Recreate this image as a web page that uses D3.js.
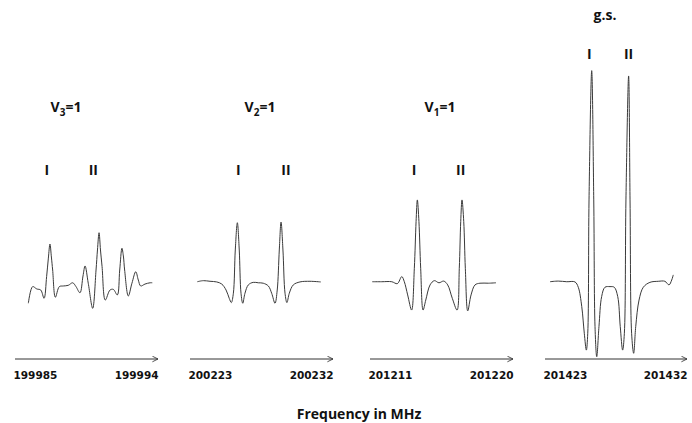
<!DOCTYPE html>
<html>
<head>
<meta charset="utf-8">
<script src="https://cdn.jsdelivr.net/npm/d3@7"></script>
<style>
  body { margin: 0; background: #fff; }
  svg { display: block; }
  .title, .peak { font-family: "Open Sans", sans-serif; font-weight: bold; fill: #111; }
  .tick text { font-family: "DejaVu Sans", sans-serif; font-weight: bold; font-size: 10.5px; fill: #111; }
</style>
</head>
<body>
<svg width="692" height="423"></svg>
<script>
// panel titles (vibrational state), sub = subscript digit
var titles = ["V", "V", "V", "g.s."];
var titleSubs = ["3", "2", "1", ""];

// first and last tick of each frequency axis, MHz
var axisStart = [199985, 200223, 201211, 201423];
var axisEnd = [199994, 200232, 201220, 201432];

// where the I / II labels sit, MHz above axisStart
var labelI = [2.01, 3.04, 2.77, 2.81];
var labelII = [4.93, 6.04, 5.71, 5.30];

// traces: [MHz above axisStart, intensity (arb. units, g.s. peak ~100)]
var v3 = [[0.84,-9.5],[1.11,-1.7],[1.37,-2.8],[1.62,-3.3],[1.83,-7.2],[1.99,3.0],[2.10,11.7],[2.20,18.3],
  [2.29,12.2],[2.37,6.1],[2.54,-6.7],[2.79,-1.7],[3.04,-1.4],[3.35,-1.1],[3.63,0.1],[3.84,-1.7],[4.09,-4.6],
  [4.28,3.3],[4.41,8.0],[4.61,-0.1],[4.89,-11.9],[5.10,6.1],[5.19,15.5],[5.29,23.6],[5.38,15.5],[5.48,7.7],
  [5.68,-8.0],[5.98,-3.3],[6.19,-3.0],[6.44,-5.6],[6.59,6.1],[6.73,16.3],[6.82,12.7],[6.90,6.1],[7.13,-6.1],
  [7.36,-0.1],[7.60,5.3],[7.76,1.4],[7.91,-1.4],[8.18,-0.5],[8.50,0.1],[8.64,0.1]];

var v2 = [[0.46,0.6],[0.84,1.1],[1.26,0.8],[1.68,0.5],[2.00,-0.5],[2.27,-3.3],[2.47,-7.2],[2.60,-9.2],
  [2.73,-4.8],[2.85,15.5],[2.98,28.3],[3.10,15.5],[3.21,-4.8],[3.32,-9.5],[3.46,-4.8],[3.67,-0.9],[3.98,0.3],
  [4.30,0.1],[4.61,-0.1],[4.93,-1.4],[5.14,-4.8],[5.35,-9.5],[5.49,-3.3],[5.62,15.5],[5.73,28.6],[5.85,15.5],
  [5.98,-4.8],[6.10,-9.2],[6.25,-4.8],[6.50,-0.9],[6.92,0.5],[7.55,0.8],[8.23,0.5]];

var v1 = [[0.14,0.6],[0.74,0.6],[1.37,0.6],[1.72,-0.3],[2.00,3.0],[2.16,0.6],[2.37,-5.6],[2.62,-12.7],
  [2.79,6.9],[2.90,28.8],[2.98,39.0],[3.08,28.8],[3.19,6.9],[3.34,-12.7],[3.51,-8.0],[3.78,-0.9],[4.05,1.1],
  [4.34,0.1],[4.64,0.9],[4.89,-0.9],[5.18,-7.2],[5.48,-12.7],[5.62,6.9],[5.71,28.8],[5.79,39.0],[5.90,28.8],
  [6.00,6.9],[6.15,-13.1],[6.36,-5.6],[6.61,-0.9],[6.92,-0.1],[7.45,-0.1],[7.93,0.1]];

var gs = [[0.32,0.6],[0.84,0.9],[1.38,0.6],[1.90,0.5],[2.11,-2.0],[2.33,-11.1],[2.49,-23.6],[2.62,-31.5],
  [2.71,-23.6],[2.79,39.0],[2.96,99.7],[3.09,39.0],[3.17,-20.5],[3.28,-34.6],[3.42,-20.5],[3.59,-6.4],
  [3.80,-2.0],[4.12,-1.7],[4.39,-2.0],[4.61,-6.4],[4.77,-20.5],[4.92,-31.5],[5.03,-23.6],[5.13,39.0],
  [5.30,97.2],[5.39,39.0],[5.49,-23.6],[5.62,-33.0],[5.75,-20.5],[5.96,-8.0],[6.23,-2.0],[6.65,0.3],
  [7.18,0.8],[7.60,0.8],[7.86,-0.9],[8.03,1.4],[8.13,3.8]];

var traces = [v3, v2, v1, gs];

// layout
var axisLeft = [15, 190, 370, 545],
    axisRight = [158, 333, 513, 687],
    axisY = 359,
    titleX = [66, 260, 440, 605],
    titleY = [112, 112, 112, 20],
    labelY = [175, 175, 175, 59];

var svg = d3.select("svg");

svg.append("defs").append("marker")
    .attr("id", "arrow")
    .attr("viewBox", "0 0 10 10")
    .attr("refX", 9).attr("refY", 5)
    .attr("markerWidth", 7).attr("markerHeight", 7)
    .attr("markerUnits", "userSpaceOnUse")
    .attr("orient", "auto")
  .append("path")
    .attr("d", "M1,1 L9,5 L1,9")
    .attr("fill", "none")
    .attr("stroke", "#333")
    .attr("stroke-width", 1.2);

// shared intensity scale, baseline at 0
var y = d3.scaleLinear().domain([0, 100]).range([283, 70]);

traces.forEach(function(tr, i){
  var x = d3.scaleLinear()
      .domain([axisStart[i], axisEnd[i]])
      .range([axisLeft[i], axisRight[i]]);

  // axis with arrow
  var ax = svg.append("g")
      .attr("transform", "translate(0," + axisY + ")")
      .call(d3.axisBottom(x).tickValues([axisStart[i], axisEnd[i]])
        .tickFormat(d3.format("d")).tickSize(0).tickPadding(13));
  ax.select(".domain")
      .attr("stroke", "#333")
      .attr("d", "M" + axisLeft[i] + ",0H" + axisRight[i])
      .attr("marker-end", "url(#arrow)");
  ax.selectAll(".tick text")
      .attr("text-anchor", function(d, j){ return j == 0 ? "start" : "end"; })
      .attr("dx", function(d, j){ return j == 0 ? -2 : 0; });

  // spectrum
  var line = d3.line()
      .x(function(d){ return x(axisStart[i] + d[0]); })
      .y(function(d){ return y(d[1]); })
      .curve(d3.curveCatmullRom.alpha(0.5));
  svg.append("path")
      .datum(tr)
      .attr("d", line)
      .attr("fill", "none")
      .attr("stroke", "#3a3a3a")
      .attr("stroke-width", 1);

  // title
  var t = svg.append("text")
      .attr("class", "title")
      .attr("x", titleX[i])
      .attr("y", titleY[i])
      .attr("text-anchor", "middle")
      .style("font-size", "14px")
      .text(titles[i]);
  if (titleSubs[i]) {
    t.append("tspan").attr("dy", 4).style("font-size", "10px").text(titleSubs[i]);
    t.append("tspan").attr("dy", -4).text("=1");
  }

  // peak labels
  svg.append("text").attr("class", "peak")
      .attr("x", x(axisStart[i] + labelI[i])).attr("y", labelY[i])
      .attr("text-anchor", "middle").style("font-size", "14px").text("I");
  svg.append("text").attr("class", "peak")
      .attr("x", x(axisStart[i] + labelII[i])).attr("y", labelY[i])
      .attr("text-anchor", "middle").style("font-size", "14px").text("II");
});

svg.append("text")
    .attr("class", "title")
    .attr("x", 359)
    .attr("y", 419)
    .attr("text-anchor", "middle")
    .style("font-size", "14px")
    .text("Frequency in MHz");
</script>
</body>
</html>
